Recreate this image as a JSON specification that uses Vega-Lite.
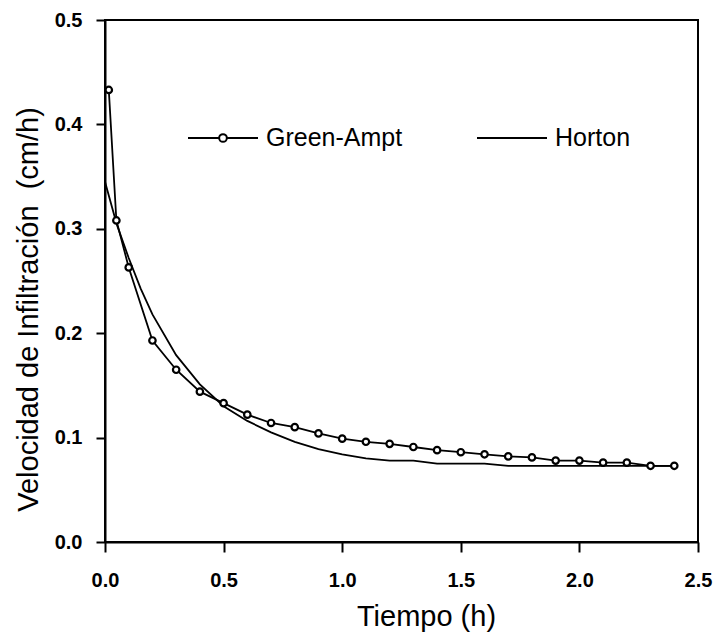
{
  "$schema": "https://vega.github.io/schema/vega-lite/v6.json",
  "width": 593,
  "height": 522,
  "autosize": "none",
  "padding": {"left": 105, "top": 20, "right": 18, "bottom": 90},
  "background": "white",
  "config": {
    "font": "Liberation Sans",
    "view": {"stroke": "black", "strokeWidth": 2},
    "axis": {
      "grid": false,
      "domainColor": "black",
      "domainWidth": 2,
      "tickColor": "black",
      "tickWidth": 2,
      "labelColor": "black",
      "titleColor": "black",
      "labelFont": "Liberation Sans",
      "titleFont": "Liberation Sans",
      "labelFontSize": 20,
      "labelFontWeight": "bold",
      "labelFlush": false,
      "titleFontSize": 29,
      "titleFontWeight": "normal"
    }
  },
  "data": {
    "values": [
      {"series": "Green-Ampt", "t": 0.016, "v": 0.433},
      {"series": "Green-Ampt", "t": 0.048, "v": 0.308},
      {"series": "Green-Ampt", "t": 0.10, "v": 0.263},
      {"series": "Green-Ampt", "t": 0.20, "v": 0.193},
      {"series": "Green-Ampt", "t": 0.30, "v": 0.165},
      {"series": "Green-Ampt", "t": 0.40, "v": 0.144},
      {"series": "Green-Ampt", "t": 0.50, "v": 0.133},
      {"series": "Green-Ampt", "t": 0.60, "v": 0.122},
      {"series": "Green-Ampt", "t": 0.70, "v": 0.114},
      {"series": "Green-Ampt", "t": 0.80, "v": 0.110},
      {"series": "Green-Ampt", "t": 0.90, "v": 0.104},
      {"series": "Green-Ampt", "t": 1.00, "v": 0.099},
      {"series": "Green-Ampt", "t": 1.10, "v": 0.096},
      {"series": "Green-Ampt", "t": 1.20, "v": 0.094},
      {"series": "Green-Ampt", "t": 1.30, "v": 0.091},
      {"series": "Green-Ampt", "t": 1.40, "v": 0.088},
      {"series": "Green-Ampt", "t": 1.50, "v": 0.086},
      {"series": "Green-Ampt", "t": 1.60, "v": 0.084},
      {"series": "Green-Ampt", "t": 1.70, "v": 0.082},
      {"series": "Green-Ampt", "t": 1.80, "v": 0.081},
      {"series": "Green-Ampt", "t": 1.90, "v": 0.078},
      {"series": "Green-Ampt", "t": 2.00, "v": 0.078},
      {"series": "Green-Ampt", "t": 2.10, "v": 0.076},
      {"series": "Green-Ampt", "t": 2.20, "v": 0.076},
      {"series": "Green-Ampt", "t": 2.30, "v": 0.073},
      {"series": "Green-Ampt", "t": 2.40, "v": 0.073},
      {"series": "Horton", "t": 0.0, "v": 0.345},
      {"series": "Horton", "t": 0.05, "v": 0.304},
      {"series": "Horton", "t": 0.10, "v": 0.272},
      {"series": "Horton", "t": 0.15, "v": 0.243},
      {"series": "Horton", "t": 0.20, "v": 0.218},
      {"series": "Horton", "t": 0.30, "v": 0.179},
      {"series": "Horton", "t": 0.40, "v": 0.151},
      {"series": "Horton", "t": 0.50, "v": 0.130},
      {"series": "Horton", "t": 0.60, "v": 0.116},
      {"series": "Horton", "t": 0.70, "v": 0.105},
      {"series": "Horton", "t": 0.80, "v": 0.096},
      {"series": "Horton", "t": 0.90, "v": 0.089},
      {"series": "Horton", "t": 1.00, "v": 0.084},
      {"series": "Horton", "t": 1.10, "v": 0.080},
      {"series": "Horton", "t": 1.20, "v": 0.078},
      {"series": "Horton", "t": 1.30, "v": 0.078},
      {"series": "Horton", "t": 1.40, "v": 0.075},
      {"series": "Horton", "t": 1.60, "v": 0.075},
      {"series": "Horton", "t": 1.70, "v": 0.073},
      {"series": "Horton", "t": 2.00, "v": 0.073},
      {"series": "Horton", "t": 2.40, "v": 0.073}
    ]
  },
  "encoding": {
    "x": {
      "field": "t",
      "type": "quantitative",
      "scale": {"domain": [0, 2.5], "nice": false, "zero": false},
      "axis": {
        "values": [0, 0.5, 1, 1.5, 2, 2.5],
        "format": ".1f",
        "tickSize": 10,
        "labelPadding": 18,
        "title": "Tiempo (h)",
        "titleX": 321,
        "titleY": 83,
        "titleBaseline": "alphabetic"
      }
    },
    "y": {
      "field": "v",
      "type": "quantitative",
      "scale": {"domain": [0, 0.5], "nice": false},
      "axis": {
        "values": [0, 0.1, 0.2, 0.3, 0.4, 0.5],
        "format": ".1f",
        "tickSize": 9,
        "labelPadding": 14,
        "title": "Velocidad de Infiltración \u00a0(cm/h)",
        "titleX": -62,
        "titleY": 289,
        "titleBaseline": "bottom"
      }
    }
  },
  "layer": [
    {
      "mark": {"type": "line", "strokeWidth": 1.8},
      "encoding": {
        "color": {
          "field": "series",
          "type": "nominal",
          "scale": {"domain": ["Green-Ampt", "Horton"], "range": ["black", "black"]},
          "legend": {
            "title": null,
            "orient": "none",
            "direction": "horizontal",
            "legendX": 82,
            "legendY": 82,
            "padding": 0,
            "symbolType": "stroke",
            "symbolSize": 4900,
            "symbolStrokeWidth": 2,
            "labelFontSize": 25,
            "labelFont": "Liberation Sans",
            "labelColor": "black",
            "labelOffset": 7,
            "columnPadding": 70,
            "encode": {
              "symbols": {
                "update": {
                  "shape": {"signal": "datum.value === 'Green-Ampt' ? 'M-1,0H-0.11M0.11,0H1M-0.11,0A0.11,0.11 0 1,1 0.11,0A0.11,0.11 0 1,1 -0.11,0' : 'M-1,0H1'"},
                  "fill": {"value": "white"},
                  "stroke": {"value": "black"}
                }
              }
            }
          }
        }
      }
    },
    {
      "transform": [{"filter": "datum.series === 'Green-Ampt'"}],
      "mark": {"type": "point", "shape": "circle", "filled": true, "fill": "white", "stroke": "black", "strokeWidth": 2.2, "size": 42, "opacity": 1}
    }
  ]
}
